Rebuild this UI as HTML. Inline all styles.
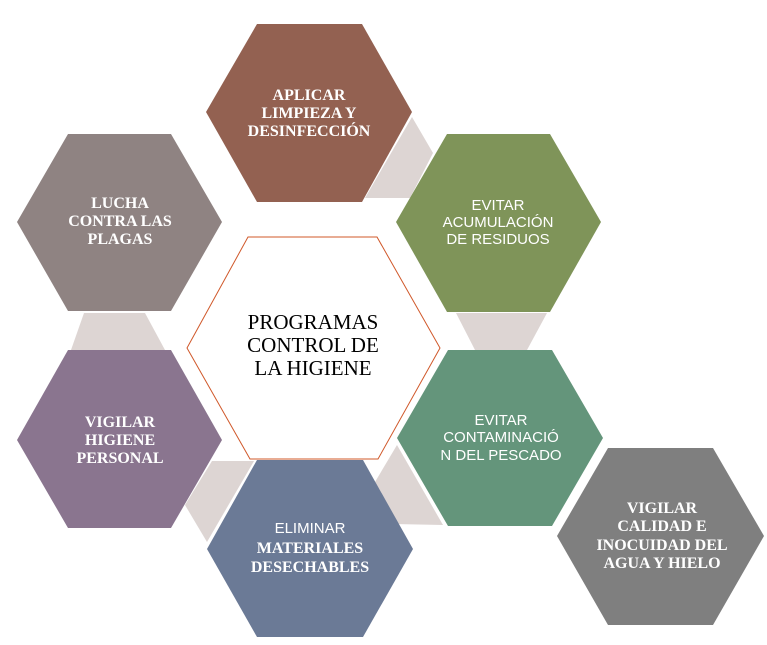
<!DOCTYPE html>
<html><head><meta charset="utf-8"><style>
html,body{margin:0;padding:0;background:#fff;}
svg{display:block;}
.s{font-family:"Liberation Sans",sans-serif;fill:#fff;font-size:15px;text-anchor:middle;}
.r{font-family:"Liberation Serif",serif;font-weight:bold;fill:#fff;font-size:16px;text-anchor:middle;letter-spacing:0px;}
</style></head><body>
<svg width="767" height="645" viewBox="0 0 767 645" xmlns="http://www.w3.org/2000/svg">
<g fill="#ddd5d3">
<polygon points="412,117 433,153 410,198 365,198"/>
<polygon points="456,313 547,313 527,350 475,350"/>
<polygon points="84,313 145,313 165,350 71,350"/>
<polygon points="212,461 254,461 207,542 185,505"/>
<polygon points="397,445 375,482 393,524 443,525"/>
</g>
<polygon points="257,24 362,24 412,112 362,202 257,202 206,112" fill="#936151"/>
<polygon points="447,134 550,134 601,222 550,312 447,312 396,222" fill="#7f9459"/>
<polygon points="68,134 171,134 222,222 171,311 68,311 17,222" fill="#8f8382"/>
<polygon points="68,350 171,350 222,440 171,528 68,528 17,440" fill="#8a758f"/>
<polygon points="448,350 552,350 603,438 552,526 448,526 397,438" fill="#64957b"/>
<polygon points="257,460 363,460 413,549 363,637 257,637 207,549" fill="#6b7a96"/>
<polygon points="608,448 713,448 764,536 713,625 608,625 557,536" fill="#7f7f7f"/>
<polygon points="248,237 377,237 440,348 378,459 250,459 187,348" fill="#fff" stroke="#d0582a" stroke-width="1"/>
<text class="r" x="309" y="100">APLICAR</text>
<text class="r" x="309" y="118">LIMPIEZA Y</text>
<text class="r" x="309" y="136">DESINFECCIÓN</text>
<text class="s" x="498" y="210">EVITAR</text>
<text class="s" x="498" y="227">ACUMULACIÓN</text>
<text class="s" x="498" y="244">DE RESIDUOS</text>
<text class="r" x="120" y="208">LUCHA</text>
<text class="r" x="120" y="226">CONTRA LAS</text>
<text class="r" x="120" y="244">PLAGAS</text>
<text font-family="Liberation Serif,serif" font-size="21" text-anchor="middle" fill="#000" x="313" y="329">PROGRAMAS</text>
<text font-family="Liberation Serif,serif" font-size="21" text-anchor="middle" fill="#000" x="313" y="352">CONTROL DE</text>
<text font-family="Liberation Serif,serif" font-size="21" text-anchor="middle" fill="#000" x="313" y="375">LA HIGIENE</text>
<text class="r" x="120" y="427">VIGILAR</text>
<text class="r" x="120" y="445">HIGIENE</text>
<text class="r" x="120" y="463">PERSONAL</text>
<text class="s" x="501" y="425">EVITAR</text>
<text class="s" x="501" y="442">CONTAMINACIÓ</text>
<text class="s" x="501" y="460">N DEL PESCADO</text>
<text class="s" x="310" y="533">ELIMINAR</text>
<text class="r" x="310" y="553">MATERIALES</text>
<text class="r" x="310" y="572">DESECHABLES</text>
<text class="r" x="662" y="513">VIGILAR</text>
<text class="r" x="662" y="531">CALIDAD E</text>
<text class="r" x="662" y="550">INOCUIDAD DEL</text>
<text class="r" x="662" y="568">AGUA Y HIELO</text>
</svg>
</body></html>
